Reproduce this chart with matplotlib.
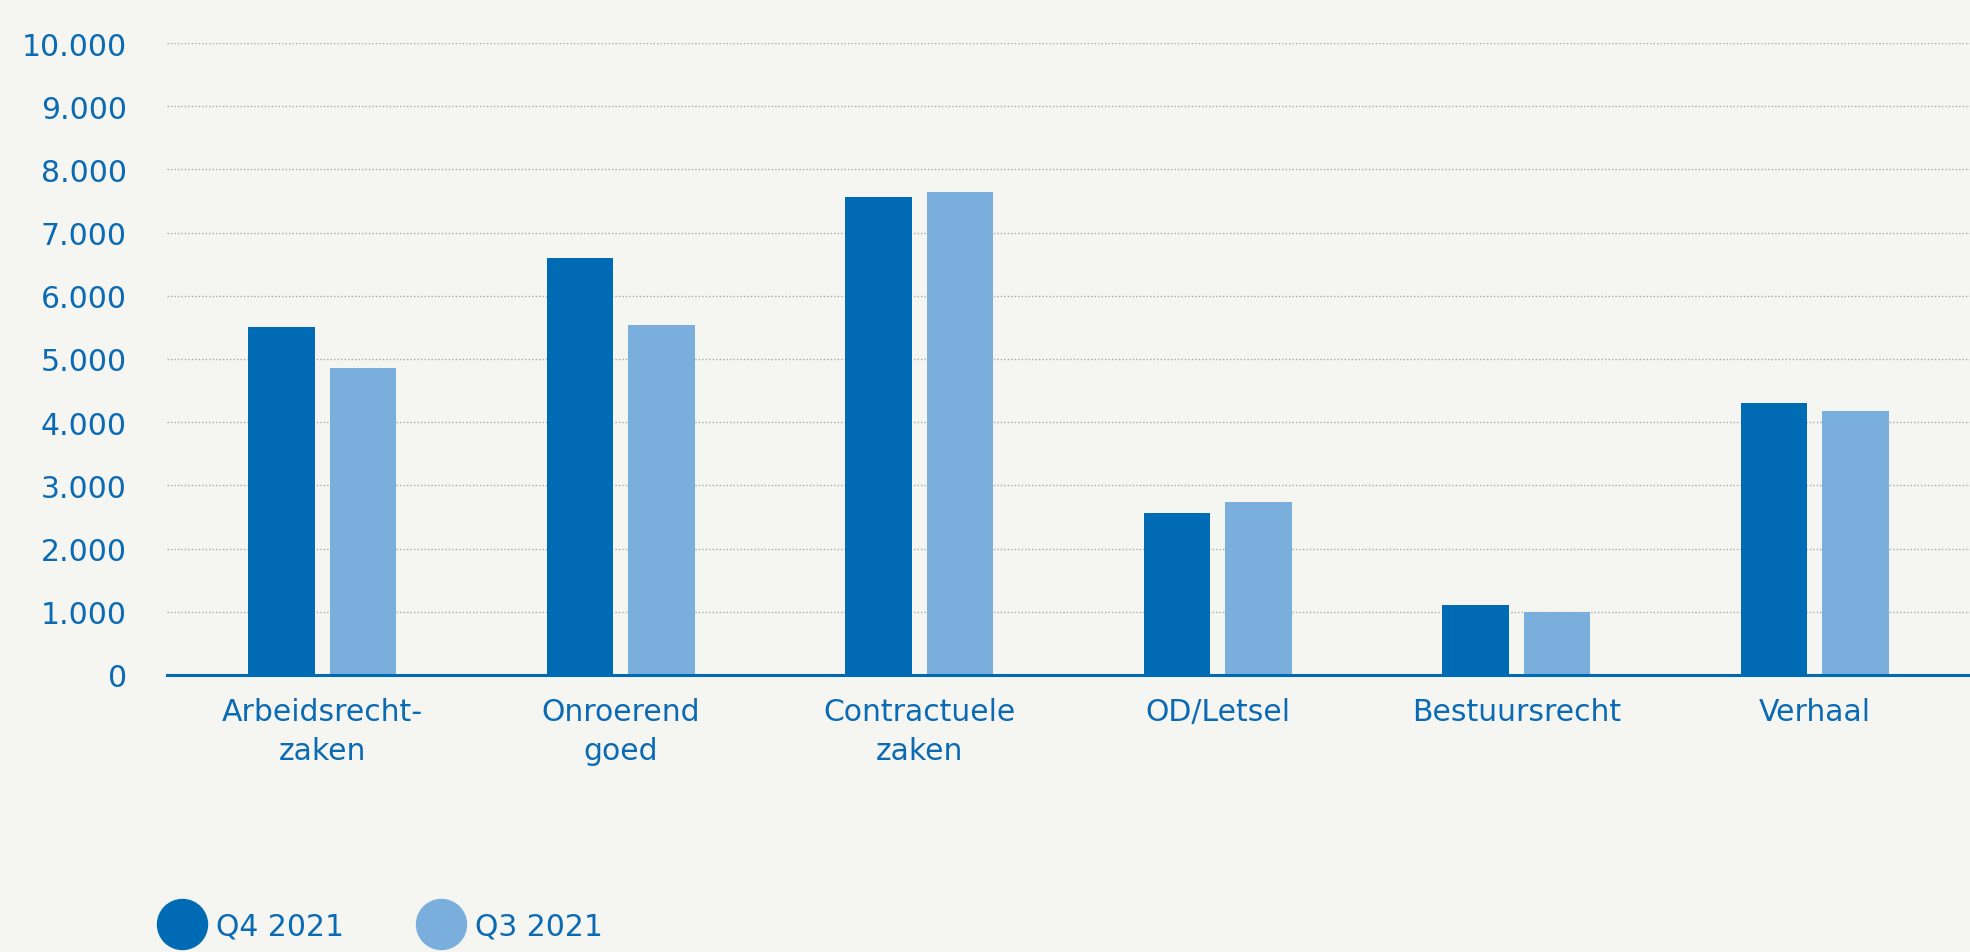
import numpy as np
import matplotlib.pyplot as plt
from matplotlib.lines import Line2D
from matplotlib.ticker import FuncFormatter

categories = ["Arbeidsrecht-\nzaken", "Onroerend\ngoed", "Contractuele\nzaken",
              "OD/Letsel", "Bestuursrecht", "Verhaal"]
q4_2021 = [5510, 6600, 7560, 2560, 1110, 4310]
q3_2021 = [4850, 5540, 7640, 2730, 1000, 4180]
series_names = ["Q4 2021", "Q3 2021"]
y_ticks = [0, 1000, 2000, 3000, 4000, 5000, 6000, 7000, 8000, 9000, 10000]

dark_blue = "#006BB5"
light_blue = "#7AAFDD"
text_blue = "#0A6AB4"
bg = "#F5F5F1"

plt.rcParams['font.family'] = ['DejaVu Sans']

fig = plt.figure(figsize=(19.7, 9.53), dpi=100, facecolor=bg)
ax = fig.add_axes([0.0848, 0.2907, 0.9152, 0.6631])
ax.set_facecolor(bg)

x = np.arange(len(categories))
w = 0.223
off = 0.137
ax.bar(x - off, q4_2021, width=w, color=dark_blue, zorder=3)
ax.bar(x + off, q3_2021, width=w, color=light_blue, zorder=3)

ax.set_xlim(-0.52, 5.52)
ax.set_ylim(0, 10000)
ax.set_yticks(y_ticks)
ax.yaxis.set_major_formatter(FuncFormatter(lambda v, p: f"{int(v):,}".replace(",", ".")))
ax.set_xticks(x)
ax.set_xticklabels(categories, linespacing=1.42)

ax.grid(axis='y', color='#AAAAAA', linestyle=(0, (1, 1.5)), linewidth=1.0, zorder=0)
ax.grid(axis='x', visible=False)

for s in ['top', 'right', 'left']:
    ax.spines[s].set_visible(False)
ax.spines['bottom'].set_color(dark_blue)
ax.spines['bottom'].set_linewidth(2.2)
ax.spines['bottom'].set_zorder(4)

ax.tick_params(axis='y', length=0, pad=29, labelsize=21.5, labelcolor=text_blue)
ax.tick_params(axis='x', length=0, pad=16, labelsize=21.5, labelcolor=text_blue)

handles = [Line2D([], [], marker='o', linestyle='', markersize=36, color=dark_blue),
           Line2D([], [], marker='o', linestyle='', markersize=36, color=light_blue)]
leg = fig.legend(handles, series_names, loc='center left', bbox_to_anchor=(0.0846, 0.0273),
                 ncol=2, frameon=False, fontsize=21.5, handlelength=1.0, handletextpad=0.65,
                 columnspacing=2.75, borderpad=0, borderaxespad=0)
for t in leg.get_texts():
    t.set_color(text_blue)

fig.savefig("out.png", dpi=100, facecolor=bg)
